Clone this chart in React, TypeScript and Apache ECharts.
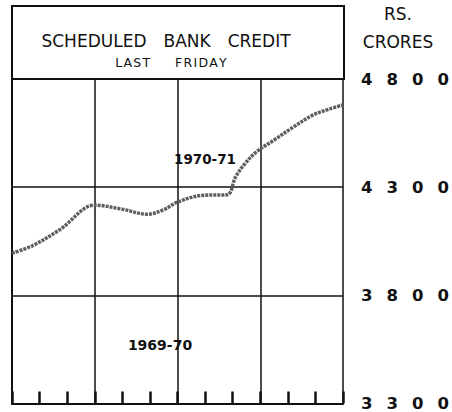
import React, { useEffect, useRef } from "react";
import * as echarts from "echarts";

// Months from the start of the fiscal year (April = 0 .. March end = 12)
const months = [0, 0.75, 1.75, 3, 4, 4.9, 5.5, 6, 6.9, 7.8, 8.1, 8.4, 8.85, 9.5, 10.2, 10.9, 11.5, 12];
// Scheduled bank credit, 1970-71, Rs. crores
const credit = [3995, 4030, 4105, 4217, 4198, 4175, 4196, 4231, 4262, 4265, 4346, 4402, 4462, 4518, 4578, 4633, 4661, 4680];
const yTicks = [3300, 3800, 4300, 4800];
const title = "SCHEDULED BANK CREDIT";
const subtitle = "LAST FRIDAY";
const unitTop = "RS.";
const unitBottom = "CRORES";
const seriesLabel = "1970-71";
const prevLabel = "1969-70";

const spaced = (s: string, sep: string) => s.split("").join(sep);

export default function App() {
  const ref = useRef<HTMLDivElement>(null);
  useEffect(() => {
    if (!ref.current) return;
    const chart = echarts.init(ref.current, null, { renderer: "svg" });
    const font = "DejaVu Sans";
    const gridLeft = 12;
    const gridRight = 344;
    const gridTop = 79;
    const gridBottom = 404;
    chart.setOption({
      animation: false,
      backgroundColor: "#ffffff",
      grid: { left: gridLeft, right: 452 - gridRight, top: gridTop, bottom: 412 - gridBottom, containLabel: false },
      xAxis: {
        type: "value",
        min: 0,
        max: 12,
        interval: 3,
        axisLine: { show: true, lineStyle: { color: "#111", width: 2 } },
        axisTick: { show: true, inside: true, length: 12, lineStyle: { color: "#111", width: 2.5 } },
        minorTick: { show: true, splitNumber: 3, length: 12, lineStyle: { color: "#111", width: 2.5 } },
        axisLabel: { show: false },
        splitLine: { show: true, lineStyle: { color: "#111", width: 1.5 } },
      },
      yAxis: {
        type: "value",
        position: "right",
        min: yTicks[0],
        max: yTicks[yTicks.length - 1],
        interval: 500,
        axisLine: { show: true, lineStyle: { color: "#111", width: 2 } },
        axisTick: { show: false },
        axisLabel: {
          show: true,
          margin: 18,
          color: "#111",
          fontFamily: font,
          fontWeight: "bold",
          fontSize: 16.5,
          formatter: (v: number) => spaced(String(v), "\u2002\u00A0"),
        },
        splitLine: { show: true, lineStyle: { color: "#111", width: 1.5 } },
      },
      series: [
        {
          type: "line",
          data: months.map((m, i) => [m, credit[i]]),
          smooth: 0.35,
          showSymbol: false,
          lineStyle: { color: "#5e5e5e", width: 3.5, type: [3, 1] },
        },
      ],
      graphic: [
        {
          type: "rect",
          shape: { x: gridLeft, y: 6, width: gridRight - gridLeft, height: gridTop - 6 },
          style: { fill: "none", stroke: "#111", lineWidth: 2 },
        },
        {
          type: "text",
          x: 166,
          y: 41,
          style: {
            text: title.split(" ").join("\u2003"),
            font: `17px "${font}"`,
            fill: "#111",
            align: "center",
            verticalAlign: "middle",
          },
        },
        {
          type: "text",
          x: 171,
          y: 62,
          style: {
            text: subtitle.split(" ").map((w) => spaced(w, "\u200A")).join("\u2003\u2003"),
            font: `12.5px "${font}"`,
            fill: "#111",
            align: "center",
            verticalAlign: "middle",
          },
        },
        {
          type: "text",
          x: 398,
          y: 14,
          style: { text: unitTop, font: `17px "${font}"`, fill: "#111", align: "center", verticalAlign: "middle" },
        },
        {
          type: "text",
          x: 398,
          y: 42,
          style: { text: unitBottom, font: `17px "${font}"`, fill: "#111", align: "center", verticalAlign: "middle" },
        },
        {
          type: "text",
          x: 205,
          y: 159,
          style: {
            text: seriesLabel,
            font: `bold 13.5px "${font}"`,
            fill: "#111",
            align: "center",
            verticalAlign: "middle",
          },
        },
        {
          type: "text",
          x: 160,
          y: 345,
          style: {
            text: prevLabel,
            font: `bold 14px "${font}"`,
            fill: "#111",
            align: "center",
            verticalAlign: "middle",
          },
        },
      ],
    });
    return () => chart.dispose();
  }, []);
  return (
    <div
      ref={ref}
      style={{ position: "fixed", left: 0, top: 0, width: 452, height: 412, background: "#fff" }}
    />
  );
}
